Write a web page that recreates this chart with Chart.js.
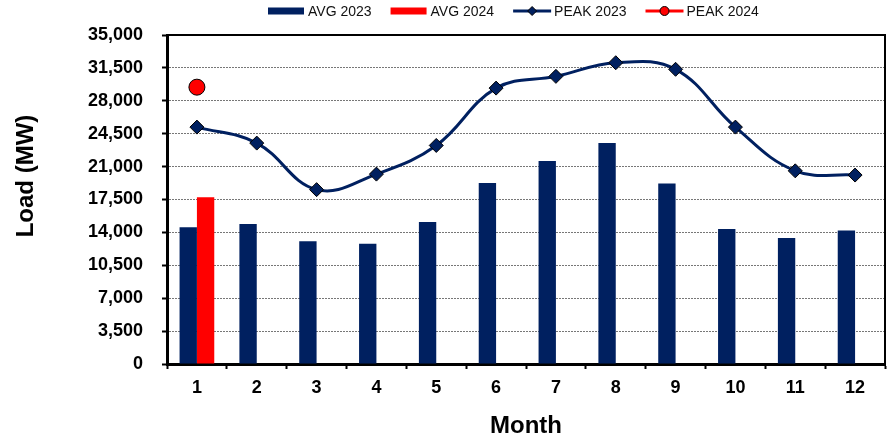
<!DOCTYPE html>
<html>
<head>
<meta charset="utf-8">
<script src="https://cdn.jsdelivr.net/npm/chart.js@4.4.1/dist/chart.umd.min.js"></script>
<style>
  body { margin: 0; background: #fff; }
  canvas { display: block; }
</style>
</head>
<body>
<canvas id="myChart" width="890" height="441"></canvas>
<script>
var months = ["1", "2", "3", "4", "5", "6", "7", "8", "9", "10", "11", "12"];
var avg2023 = [14550, 14900, 13050, 12800, 15100, 19250, 21600, 23500, 19200, 14350, 13400, 14200];
var avg2024 = [17750, null, null, null, null, null, null, null, null, null, null, null];
var peak2023 = [25200, 23500, 18550, 20200, 23250, 29350, 30600, 32050, 31350, 25200, 20550, 20100];
var peak2024 = [29450, null, null, null, null, null, null, null, null, null, null, null];

var navy = "#002060";
var red = "#ff0000";
var fontFam = "'Liberation Sans', Arial, sans-serif";

// frame on top and right of the plot, plus the y title (sits above centre in the original)
var framePlugin = {
  id: "frame",
  afterDatasetsDraw: function(chart) {
    var a = chart.chartArea, ctx = chart.ctx;
    ctx.save();
    ctx.strokeStyle = "#000";
    ctx.lineWidth = 2;
    ctx.beginPath();
    ctx.moveTo(a.left, a.top);
    ctx.lineTo(a.right, a.top);
    ctx.lineTo(a.right, a.bottom);
    ctx.stroke();
    ctx.translate(26, 176);
    ctx.rotate(-Math.PI / 2);
    ctx.font = "bold 24px " + fontFam;
    ctx.fillStyle = "#000";
    ctx.textAlign = "center";
    ctx.textBaseline = "middle";
    ctx.fillText("Load (MW)", 0, 0);
    ctx.restore();
  }
};

// legend drawn by hand so line entries show line + marker
var legendPlugin = {
  id: "myLegend",
  afterDraw: function(chart) {
    var ctx = chart.ctx;
    var x = 268, y = 11;
    ctx.save();
    ctx.font = "14px " + fontFam;
    ctx.textBaseline = "middle";
    chart.data.datasets.forEach(function(ds) {
      if (ds.type === "line") {
        ctx.strokeStyle = ds.borderColor;
        ctx.lineWidth = 3;
        ctx.beginPath();
        ctx.moveTo(x, y);
        ctx.lineTo(x + 38, y);
        ctx.stroke();
        ctx.fillStyle = ds.pointBackgroundColor;
        ctx.strokeStyle = "#000";
        ctx.lineWidth = 1;
        ctx.beginPath();
        if (ds.pointStyle === "rectRot") {
          ctx.moveTo(x + 19 - 4.5, y);
          ctx.lineTo(x + 19, y - 4.5);
          ctx.lineTo(x + 19 + 4.5, y);
          ctx.lineTo(x + 19, y + 4.5);
          ctx.closePath();
        } else {
          ctx.arc(x + 19, y, 4.5, 0, Math.PI * 2);
        }
        ctx.fill();
        ctx.stroke();
        x += 41;
      } else {
        ctx.fillStyle = ds.backgroundColor;
        ctx.fillRect(x, y - 3.5, 36, 7);
        x += 40;
      }
      ctx.fillStyle = "#111";
      ctx.fillText(ds.label, x, y + 1);
      x += ctx.measureText(ds.label).width + 19;
    });
    ctx.restore();
  }
};

new Chart("myChart", {
  type: "bar",
  data: {
    labels: months,
    datasets: [
      { label: "AVG 2023", data: avg2023, backgroundColor: navy, order: 2 },
      { label: "AVG 2024", data: avg2024, backgroundColor: red, order: 2 },
      {
        type: "line", label: "PEAK 2023", data: peak2023, order: 0,
        borderColor: navy, borderWidth: 3, tension: 0.4,
        pointStyle: "rectRot", pointRadius: 7, pointBackgroundColor: navy,
        pointBorderColor: "#000", pointBorderWidth: 1
      },
      {
        type: "line", label: "PEAK 2024", data: peak2024, order: 0,
        borderColor: red, borderWidth: 3,
        pointStyle: "circle", pointRadius: 8, pointBackgroundColor: red,
        pointBorderColor: "#000", pointBorderWidth: 1
      }
    ]
  },
  options: {
    responsive: false,
    animation: false,
    devicePixelRatio: 1,
    categoryPercentage: 0.58,
    barPercentage: 1.0,
    layout: { autoPadding: false, padding: { top: 35, right: 5, left: 0, bottom: 0 } },
    plugins: { legend: { display: false }, tooltip: { enabled: false } },
    scales: {
      x: {
        afterFit: function(s) { s.height = 77; },
        grid: { display: true, drawOnChartArea: false, offset: true, tickLength: 5, tickColor: "#000", tickWidth: 2 },
        border: { color: "#000", width: 3 },
        ticks: { color: "#000", padding: 8, font: { family: fontFam, size: 18, weight: "bold" } },
        title: { display: true, text: "Month", color: "#000", padding: { top: 2, bottom: 0 }, font: { family: fontFam, size: 24, weight: "bold" } }
      },
      y: {
        min: 0,
        max: 35000,
        afterFit: function(s) { s.width = 167; },
        grid: { color: "#777", lineWidth: 1, tickLength: 5, tickColor: "#000", tickWidth: 2 },
        border: { color: "#000", width: 3, dash: [2, 1] },
        ticks: {
          stepSize: 3500, color: "#000", padding: 19,
          font: { family: fontFam, size: 18, weight: "bold" },
          callback: function(v) { return Number(v).toLocaleString("en-US"); }
        }
      }
    }
  },
  plugins: [framePlugin, legendPlugin]
});
</script>
</body>
</html>
